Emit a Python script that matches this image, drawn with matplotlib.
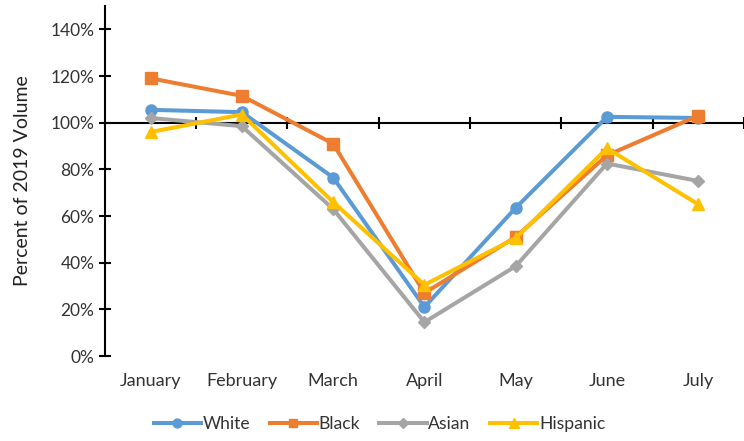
import matplotlib.pyplot as plt
from matplotlib.transforms import blended_transform_factory

plt.rcParams['font.family'] = ['Lato', 'DejaVu Sans']

# Monthly volume as percent of 2019, by group
months = ['January', 'February', 'March', 'April', 'May', 'June', 'July']
white = [105.5, 104.5, 76.5, 21, 63.5, 102.5, 102]
black = [119, 111.5, 91, 27, 51, 86, 103]
asian = [102, 98.5, 63, 14.5, 38.5, 82.5, 75]
hispanic = [96, 103.5, 66, 30.5, 50.5, 89, 65]

series = [
    ('White', white, '#5B9BD5', 'o', 8),
    ('Black', black, '#ED7D31', 's', 8),
    ('Asian', asian, '#A5A5A5', 'D', 6),
    ('Hispanic', hispanic, '#FFC000', '^', 9),
]

fig = plt.figure(figsize=(7.44, 4.41), dpi=100)
ax = fig.add_axes([0.141, 0.1927, 0.8589, 0.7937])

x = list(range(len(months)))
for name, vals, col, mk, ms in series:
    ax.plot(x, vals, color=col, marker=mk, markersize=ms, linewidth=2.9,
            label=name, zorder=3)

ax.set_xlim(-0.5, 6.446)
ax.set_ylim(0, 150)
ax.set_yticks(range(0, 141, 20))
ax.set_yticklabels([f'{v}%' for v in range(0, 141, 20)], fontsize=12.5,
                   color='#333333')
ax.tick_params(axis='y', direction='inout', length=9, width=1.5, pad=3)

# horizontal axis crosses at 100%
for s in ['top', 'right']:
    ax.spines[s].set_visible(False)
ax.spines['left'].set_linewidth(1.5)
ax.spines['bottom'].set_position(('data', 100))
ax.spines['bottom'].set_linewidth(1.5)
ax.spines['bottom'].set_zorder(2)
ax.set_xticks([i + 0.5 for i in range(len(months))])
ax.set_xticklabels([])
ax.tick_params(axis='x', direction='inout', length=9, width=1.5)

trans = blended_transform_factory(ax.transData, ax.transAxes)
for i, m in enumerate(months):
    ax.text(i, -0.072, m, transform=trans, ha='center', va='center',
            fontsize=13, color='#333333')

ax.set_ylabel('Percent of 2019 Volume', fontsize=14, color='#222222',
              labelpad=14)

fig.legend(loc='center', bbox_to_anchor=(0.51, 0.038), ncol=4, frameon=False,
           fontsize=12.6, handlelength=2.7, columnspacing=1.1,
           handletextpad=0.1, markerscale=0.8, labelcolor='#333333')

fig.savefig('out.png', dpi=100)
